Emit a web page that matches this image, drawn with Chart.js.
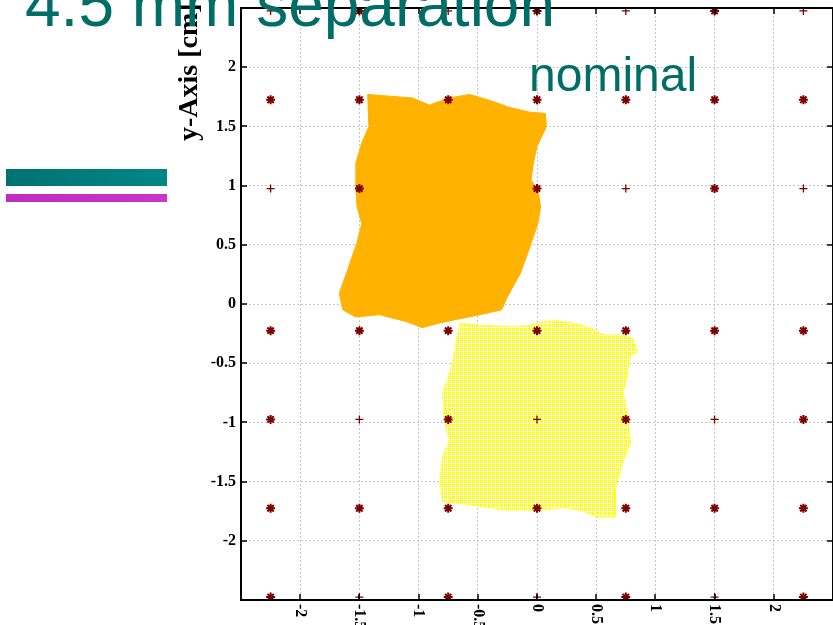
<!DOCTYPE html>
<html>
<head>
<meta charset="utf-8">
<title>4.5 mm separation</title>
<script src="https://cdn.jsdelivr.net/npm/chart.js@4"></script>
<style>
  html, body { margin: 0; padding: 0; background: #fff; overflow: hidden; }
  #slide { position: relative; width: 833px; height: 625px; overflow: hidden; }
  #plot { position: absolute; left: 0; top: 0; }
  .bar { position: absolute; left: 6px; width: 161px; }
  #barTeal { top: 169px; height: 17px; background: linear-gradient(90deg, #007272, #008686); }
  #barMagenta { top: 194px; height: 8px; background: linear-gradient(90deg, #c02cc0, #c934cb); }
  .slideText { position: absolute; font-family: "Liberation Sans", Arial, sans-serif; color: #006e66; white-space: nowrap; }
  #slideTitle { left: 25px; top: -28px; font-size: 64px; line-height: 64px; }
  #caseTag { left: 529px; top: 51px; font-size: 48px; line-height: 48px; }
</style>
</head>
<body>
<div id="slide">
  <canvas id="plot" width="833" height="625"></canvas>
  <div class="bar" id="barTeal"></div>
  <div class="bar" id="barMagenta"></div>
  <div class="slideText" id="slideTitle">4.5 mm separation</div>
  <div class="slideText" id="caseTag">nominal</div>
</div>
<script>
// Beam-spot footprints of the two layers, traced as closed outlines (x, y in cm)
const upperSpot = [
  [-1.43, 1.77], [-1.05, 1.74], [-0.91, 1.68], [-0.74, 1.74], [-0.57, 1.77], [-0.40, 1.72],
  [-0.23, 1.66], [-0.06, 1.62], [0.07, 1.61], [0.08, 1.50], [0.00, 1.33], [-0.03, 1.19],
  [-0.05, 1.05], [0.01, 0.95], [0.03, 0.82], [0.01, 0.69], [-0.06, 0.48], [-0.14, 0.26],
  [-0.25, 0.06], [-0.30, -0.05], [-0.48, -0.09], [-0.68, -0.13], [-0.82, -0.16], [-0.97, -0.20],
  [-1.10, -0.15], [-1.33, -0.09], [-1.53, -0.11], [-1.64, -0.05], [-1.67, 0.09], [-1.61, 0.26],
  [-1.52, 0.52], [-1.48, 0.68], [-1.52, 0.82], [-1.53, 0.99], [-1.53, 1.19], [-1.48, 1.36],
  [-1.42, 1.50], [-1.43, 1.77]
];
const lowerSpot = [
  [-0.65, -0.16], [-0.48, -0.18], [-0.20, -0.19], [-0.06, -0.18], [0.05, -0.15], [0.17, -0.14],
  [0.31, -0.16], [0.45, -0.20], [0.56, -0.26], [0.70, -0.26], [0.81, -0.29], [0.85, -0.41],
  [0.79, -0.43], [0.76, -0.62], [0.73, -0.75], [0.77, -0.98], [0.79, -1.17], [0.73, -1.32],
  [0.69, -1.46], [0.66, -1.57], [0.66, -1.80], [0.51, -1.80], [0.36, -1.74], [0.22, -1.72],
  [0.03, -1.74], [-0.14, -1.74], [-0.29, -1.74], [-0.40, -1.72], [-0.68, -1.68], [-0.80, -1.67],
  [-0.82, -1.49], [-0.80, -1.29], [-0.74, -1.15], [-0.78, -1.01], [-0.80, -0.75], [-0.75, -0.62],
  [-0.71, -0.47], [-0.68, -0.30], [-0.65, -0.16]
];

// Reference positions of the pixel grid (cm)
const plusMarks = [
  [-2.25, 2.475], [-0.75, 2.475], [0.75, 2.475], [2.25, 2.475],
  [-2.25, 0.975], [0.75, 0.975], [2.25, 0.975],
  [-1.5, -0.975], [0, -0.975], [1.5, -0.975],
  [-1.5, -2.475], [0, -2.475], [1.5, -2.475]
];
const starMarks = [
  [-1.5, 2.475], [0, 2.475], [1.5, 2.475],
  [-2.25, 1.725], [-1.5, 1.725], [-0.75, 1.725], [0, 1.725], [0.75, 1.725], [1.5, 1.725], [2.25, 1.725],
  [-1.5, 0.975], [0, 0.975], [1.5, 0.975],
  [-2.25, -0.225], [-1.5, -0.225], [-0.75, -0.225], [0, -0.225], [0.75, -0.225], [1.5, -0.225], [2.25, -0.225],
  [-2.25, -0.975], [-0.75, -0.975], [0.75, -0.975], [2.25, -0.975],
  [-2.25, -1.725], [-1.5, -1.725], [-0.75, -1.725], [0, -1.725], [0.75, -1.725], [1.5, -1.725], [2.25, -1.725],
  [-2.25, -2.475], [-0.75, -2.475], [0.75, -2.475], [2.25, -2.475]
];

const xTickLabels = ['-2', '-1.5', '-1', '-0.5', '0', '0.5', '1', '1.5', '2'];
const yTickLabels = ['2', '1.5', '1', '0.5', '0', '-0.5', '-1', '-1.5', '-2'];
const yAxisTitle = 'y-Axis [cm]';

const toPoints = list => list.map(([x, y]) => ({ x, y }));

// Fine yellow mesh used for the lower footprint
function makeSpotPattern() {
  const tile = document.createElement('canvas');
  tile.width = 4; tile.height = 4;
  const t = tile.getContext('2d');
  t.fillStyle = '#fffff4'; t.fillRect(0, 0, 4, 4);
  t.fillStyle = '#ffff00'; t.fillRect(0, 0, 3, 3);
  t.fillStyle = '#ffffe0'; t.fillRect(1, 1, 1, 1);
  return t.createPattern(tile, 'repeat');
}

const serif = '"Liberation Serif", "Times New Roman", serif';

// Frame, inward tick marks, tick labels and axis title in gnuplot style
const frameAndLabels = {
  id: 'frameAndLabels',
  afterDatasetsDraw(chart) {
    const { ctx, chartArea: a, scales: { x, y } } = chart;
    ctx.save();
    ctx.strokeStyle = '#000';
    ctx.lineWidth = 2;
    ctx.strokeRect(a.left, a.top, a.right - a.left, a.bottom - a.top);

    ctx.lineWidth = 1.5;
    const tickLen = 6;
    ctx.beginPath();
    xTickLabels.forEach(l => {
      const px = Math.round(x.getPixelForValue(parseFloat(l)));
      ctx.moveTo(px, a.bottom); ctx.lineTo(px, a.bottom - tickLen);
      ctx.moveTo(px, a.top); ctx.lineTo(px, a.top + tickLen);
    });
    yTickLabels.forEach(l => {
      const py = Math.round(y.getPixelForValue(parseFloat(l)));
      ctx.moveTo(a.left, py); ctx.lineTo(a.left + tickLen, py);
      ctx.moveTo(a.right, py); ctx.lineTo(a.right - tickLen, py);
    });
    ctx.stroke();

    ctx.fillStyle = '#000';
    ctx.font = 'bold 16px ' + serif;
    ctx.textAlign = 'right';
    ctx.textBaseline = 'middle';
    yTickLabels.forEach(l => {
      ctx.fillText(l, a.left - 5, y.getPixelForValue(parseFloat(l)));
    });

    ctx.textAlign = 'left';
    xTickLabels.forEach(l => {
      ctx.save();
      ctx.translate(x.getPixelForValue(parseFloat(l)), a.bottom + 4);
      ctx.rotate(Math.PI / 2);
      ctx.fillText(l, 0, 0);
      ctx.restore();
    });

    ctx.save();
    ctx.font = 'bold 28px ' + serif;
    ctx.textBaseline = 'alphabetic';
    ctx.translate(197, 141);
    ctx.rotate(-Math.PI / 2);
    ctx.fillText(yAxisTitle, 0, 0);
    ctx.restore();

    ctx.restore();
  }
};

const axisOpts = {
  type: 'linear',
  min: -2.5,
  max: 2.5,
  ticks: { display: false, stepSize: 0.5 },
  grid: { color: '#c6c6c6', lineWidth: 1, drawTicks: false },
  border: { display: false, dash: [2, 2] }
};

new Chart(document.getElementById('plot'), {
  type: 'scatter',
  data: {
    datasets: [
      {
        label: 'plus',
        data: toPoints(plusMarks),
        pointStyle: 'cross',
        pointRadius: 4,
        borderColor: '#7d0000',
        borderWidth: 1.3,
        order: 1
      },
      {
        label: 'star',
        data: toPoints(starMarks),
        pointStyle: 'star',
        pointRadius: 4.5,
        borderColor: '#7d0000',
        borderWidth: 2,
        order: 1
      },
      {
        label: 'upper',
        data: toPoints(upperSpot),
        showLine: true,
        tension: 0,
        pointRadius: 0,
        borderColor: '#ffb300',
        borderWidth: 1,
        backgroundColor: '#ffb300',
        fill: 'shape',
        order: 2
      },
      {
        label: 'lower',
        data: toPoints(lowerSpot),
        showLine: true,
        tension: 0,
        pointRadius: 0,
        borderColor: 'rgba(255,255,0,0.6)',
        borderWidth: 1,
        backgroundColor: makeSpotPattern(),
        fill: 'shape',
        order: 3
      }
    ]
  },
  options: {
    responsive: false,
    animation: false,
    devicePixelRatio: 1,
    layout: { autoPadding: false, padding: { left: 241, right: 0, top: 8, bottom: 25 } },
    plugins: { legend: { display: false }, tooltip: { enabled: false } },
    scales: { x: { ...axisOpts, position: 'bottom' }, y: { ...axisOpts, position: 'left' } }
  },
  plugins: [frameAndLabels]
});
</script>
</body>
</html>
